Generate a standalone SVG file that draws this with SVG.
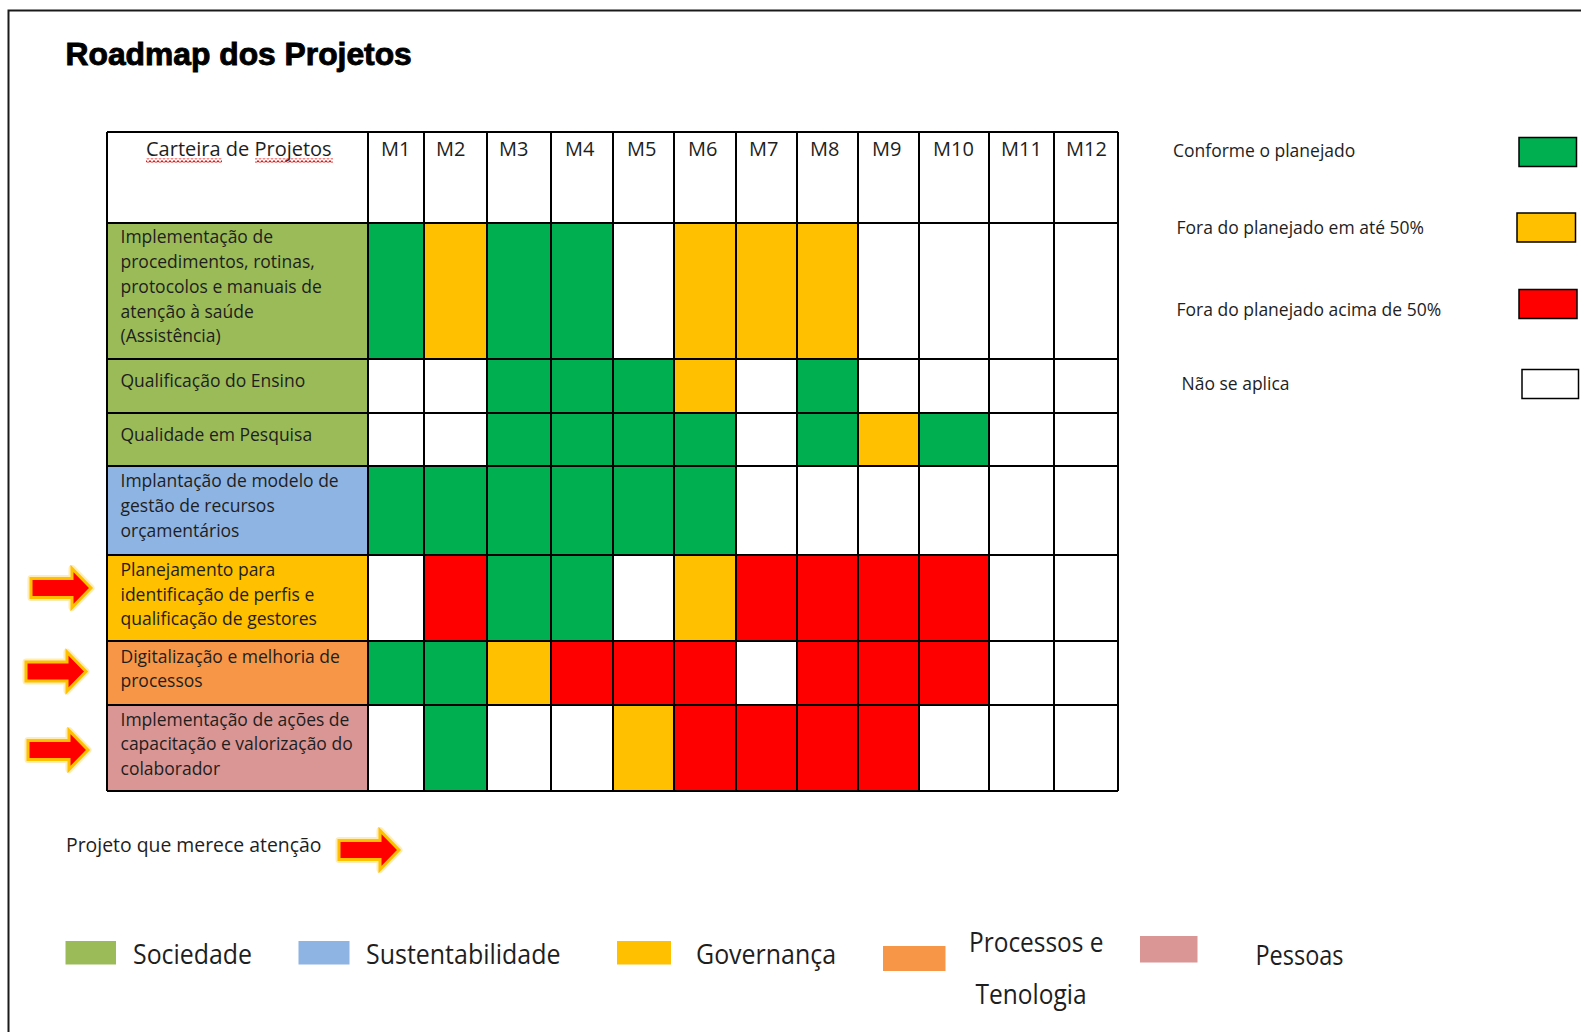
<svg xmlns="http://www.w3.org/2000/svg" xmlns:xlink="http://www.w3.org/1999/xlink" width="1581" height="1032" viewBox="0 0 1581 1032">
<style>
.t{font-family:"Open Sans","Liberation Sans",sans-serif;fill:#1e1e1e}
.lb{font-size:17.5px}
.hd{font-size:20px}
.bl{font-size:28px}
.ti{font-family:"Liberation Sans",Arial,sans-serif;font-weight:bold;font-size:31.8px;fill:#000;stroke:#000;stroke-width:0.9px}
.G{fill:#00B050}.Y{fill:#FFC000}.R{fill:#FF0000}.W{fill:#FFFFFF}
.soc{fill:#9BBB59}.sus{fill:#8EB4E3}.gov{fill:#FFC000}.pro{fill:#F79646}.pes{fill:#D99694}
.grid{stroke:#000;stroke-width:2;fill:none}
.key{stroke:#000;stroke-width:1.5}
.glow{fill:none;stroke:#FFE699;stroke-width:7;stroke-linejoin:round;opacity:.7}
.arw{fill:#FF0000;stroke:#FFC000;stroke-width:3;stroke-linejoin:miter}
</style>
<defs>
<path id="arrowShape" d="M0,-9.5 H41 V-19.5 L60,0 L41,19.5 V9.5 H0 Z"/>
<g id="attn"><use xlink:href="#arrowShape" href="#arrowShape" class="glow"/><use xlink:href="#arrowShape" href="#arrowShape" class="arw"/></g>
<pattern id="squig" x="0" y="0" width="4" height="4" patternUnits="userSpaceOnUse">
<polyline points="0,3.2 2,0.8 4,3.2" fill="none" stroke="#E01818" stroke-width="1.2"/>
</pattern>
</defs>
<rect width="1581" height="1032" fill="#FFFFFF"/>
<path d="M8.5,1032 V10.5 H1581" fill="none" stroke="#1a1a1a" stroke-width="2"/>
<text class="ti" x="65.5" y="65">Roadmap dos Projetos</text>

<g id="header">
<text class="t hd" x="146" y="156">Carteira de Projetos</text>
<rect x="146" y="158.5" width="76" height="4" fill="url(#squig)"/>
<rect x="255" y="158.5" width="78" height="4" fill="url(#squig)"/>
<text class="t hd" x="381" y="156">M1</text>
<text class="t hd" x="436" y="156">M2</text>
<text class="t hd" x="499" y="156">M3</text>
<text class="t hd" x="565" y="156">M4</text>
<text class="t hd" x="627" y="156">M5</text>
<text class="t hd" x="688" y="156">M6</text>
<text class="t hd" x="749" y="156">M7</text>
<text class="t hd" x="810" y="156">M8</text>
<text class="t hd" x="872" y="156">M9</text>
<text class="t hd" x="933" y="156">M10</text>
<text class="t hd" x="1001" y="156">M11</text>
<text class="t hd" x="1066" y="156">M12</text>
</g>

<g id="row1">
<rect class="soc" x="107" y="223" width="261" height="136"/>
<text class="t lb" x="120.5"><tspan x="120.5" y="243">Implementação de</tspan><tspan x="120.5" y="268">procedimentos, rotinas,</tspan><tspan x="120.5" y="293">protocolos e manuais de</tspan><tspan x="120.5" y="317.5">atenção à saúde</tspan><tspan x="120.5" y="342">(Assistência)</tspan></text>
<rect class="G" x="368" y="223" width="56" height="136"/>
<rect class="Y" x="424" y="223" width="63" height="136"/>
<rect class="G" x="487" y="223" width="126" height="136"/>
<rect class="Y" x="674" y="223" width="184" height="136"/>
</g>

<g id="row2">
<rect class="soc" x="107" y="359" width="261" height="54"/>
<text class="t lb" x="120.5" y="386.5">Qualificação do Ensino</text>
<rect class="G" x="487" y="359" width="187" height="54"/>
<rect class="Y" x="674" y="359" width="62" height="54"/>
<rect class="G" x="797" y="359" width="61" height="54"/>
</g>

<g id="row3">
<rect class="soc" x="107" y="413" width="261" height="53"/>
<text class="t lb" x="120.5" y="441">Qualidade em Pesquisa</text>
<rect class="G" x="487" y="413" width="249" height="53"/>
<rect class="G" x="797" y="413" width="61" height="53"/>
<rect class="Y" x="858" y="413" width="61" height="53"/>
<rect class="G" x="919" y="413" width="70" height="53"/>
</g>

<g id="row4">
<rect class="sus" x="107" y="466" width="261" height="89"/>
<text class="t lb" x="120.5"><tspan x="120.5" y="487">Implantação de modelo de</tspan><tspan x="120.5" y="511.5">gestão de recursos</tspan><tspan x="120.5" y="536.5">orçamentários</tspan></text>
<rect class="G" x="368" y="466" width="368" height="89"/>
</g>

<g id="row5">
<rect class="gov" x="107" y="555" width="261" height="86"/>
<text class="t lb" x="120.5"><tspan x="120.5" y="576">Planejamento para</tspan><tspan x="120.5" y="600.5">identificação de perfis e</tspan><tspan x="120.5" y="625">qualificação de gestores</tspan></text>
<rect class="R" x="424" y="555" width="63" height="86"/>
<rect class="G" x="487" y="555" width="126" height="86"/>
<rect class="Y" x="674" y="555" width="62" height="86"/>
<rect class="R" x="736" y="555" width="253" height="86"/>
</g>

<g id="row6">
<rect class="pro" x="107" y="641" width="261" height="64"/>
<text class="t lb" x="120.5"><tspan x="120.5" y="663">Digitalização e melhoria de</tspan><tspan x="120.5" y="687">processos</tspan></text>
<rect class="G" x="368" y="641" width="119" height="64"/>
<rect class="Y" x="487" y="641" width="64" height="64"/>
<rect class="R" x="551" y="641" width="185" height="64"/>
<rect class="R" x="797" y="641" width="192" height="64"/>
</g>

<g id="row7">
<rect class="pes" x="107" y="705" width="261" height="86"/>
<text class="t lb" x="120.5"><tspan x="120.5" y="726">Implementação de ações de</tspan><tspan x="120.5" y="750">capacitação e valorização do</tspan><tspan x="120.5" y="775">colaborador</tspan></text>
<rect class="G" x="424" y="705" width="63" height="86"/>
<rect class="Y" x="613" y="705" width="61" height="86"/>
<rect class="R" x="674" y="705" width="245" height="86"/>
</g>

<g id="grid">
<path class="grid" d="M107,132 H1118 M107,223 H1118 M107,359 H1118 M107,413 H1118 M107,466 H1118 M107,555 H1118 M107,641 H1118 M107,705 H1118 M107,791 H1118
M107,132 V791 M368,132 V791 M424,132 V791 M487,132 V791 M551,132 V791 M613,132 V791 M674,132 V791 M736,132 V791 M797,132 V791 M858,132 V791 M919,132 V791 M989,132 V791 M1054,132 V791 M1118,132 V791"/>
</g>

<g id="status-legend">
<text class="t lb" x="1173" y="157">Conforme o planejado</text>
<rect class="G key" x="1519" y="137.5" width="57.5" height="29"/>
<text class="t lb" x="1176.5" y="234">Fora do planejado em até 50%</text>
<rect class="Y key" x="1517" y="213" width="58.5" height="29"/>
<text class="t lb" x="1176.5" y="316">Fora do planejado acima de 50%</text>
<rect class="R key" x="1519" y="289.5" width="58" height="29"/>
<text class="t lb" x="1181.5" y="390">Não se aplica</text>
<rect class="W key" x="1522" y="369.5" width="56.5" height="29"/>
</g>

<g id="attention-arrows">
<use xlink:href="#attn" href="#attn" x="31" y="588"/>
<use xlink:href="#attn" href="#attn" x="26" y="671.5"/>
<use xlink:href="#attn" href="#attn" x="28" y="750"/>
</g>

<g id="attention-legend">
<text class="t" style="font-size:19.4px" x="66" y="851.5">Projeto que merece atenção</text>
<use xlink:href="#attn" href="#attn" x="339" y="850"/>
</g>

<g id="category-legend">
<rect class="soc" x="65.5" y="941" width="50.5" height="23.5"/>
<text class="t bl" x="133" y="964" textLength="119" lengthAdjust="spacingAndGlyphs">Sociedade</text>
<rect class="sus" x="298.5" y="941" width="51" height="23.5"/>
<text class="t bl" x="366" y="964" textLength="194.5" lengthAdjust="spacingAndGlyphs">Sustentabilidade</text>
<rect class="gov" x="617" y="941" width="54" height="23.5"/>
<text class="t bl" x="696" y="964" textLength="140" lengthAdjust="spacingAndGlyphs">Governança</text>
<rect class="pro" x="883" y="946" width="62.5" height="25"/>
<text class="t bl" x="969" y="952" textLength="134.5" lengthAdjust="spacingAndGlyphs">Processos e</text>
<text class="t bl" x="975.5" y="1003.5" textLength="111" lengthAdjust="spacingAndGlyphs">Tenologia</text>
<rect class="pes" x="1140" y="936" width="57.5" height="26.5"/>
<text class="t bl" x="1255.5" y="965" textLength="88" lengthAdjust="spacingAndGlyphs">Pessoas</text>
</g>
</svg>
